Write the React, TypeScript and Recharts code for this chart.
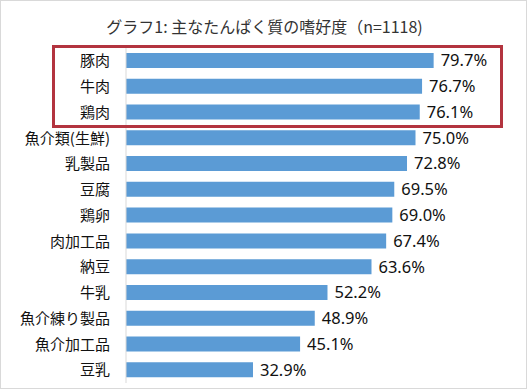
import React from 'react';
import { BarChart, Bar, XAxis, YAxis, LabelList } from 'recharts';

const categories = ['豚肉', '牛肉', '鶏肉', '魚介類(生鮮)', '乳製品', '豆腐', '鶏卵', '肉加工品', '納豆', '牛乳', '魚介練り製品', '魚介加工品', '豆乳'];
const values = [79.7, 76.7, 76.1, 75.0, 72.8, 69.5, 69.0, 67.4, 63.6, 52.2, 48.9, 45.1, 32.9];
const title = 'グラフ1: 主なたんぱく質の嗜好度（n=1118)';

const data = categories.map((name, i) => ({ name, value: values[i] }));

const jp = '"Noto Sans CJK JP", "Noto Sans", sans-serif';

export default function App() {
  return (
    <div style={{ position: 'absolute', left: 0, top: 0, width: 527, height: 389, boxSizing: 'border-box', border: '1px solid #D9D9D9', background: '#fff' }}>
      <div style={{ position: 'absolute', left: 0, top: 12, width: 527, textAlign: 'center', fontFamily: jp, fontSize: 16, color: '#333', lineHeight: '26px' }}>{title}</div>
      <div style={{ position: 'absolute', left: 0, top: 0 }}>
        <BarChart width={525} height={387} data={data} layout="vertical" margin={{ top: 47, right: 14, bottom: 5, left: 0 }} barSize={15}>
          <XAxis type="number" domain={[0, 100]} hide />
          <YAxis type="category" dataKey="name" width={125} tickSize={0} tickMargin={16} axisLine={{ stroke: '#D9D9D9' }} tickLine={false} interval={0} tick={{ fontFamily: jp, fontSize: 15, fill: '#111' }} />
          <Bar dataKey="value" fill="#5B9BD5" isAnimationActive={false}>
            <LabelList dataKey="value" position="right" offset={7} formatter={(v: number) => `${v.toFixed(1)}%`} style={{ fontFamily: '"Noto Sans", sans-serif', fontSize: 16.5, fill: '#111' }} />
          </Bar>
        </BarChart>
      </div>
      <div style={{ position: 'absolute', left: 51, top: 44, width: 451, height: 83, boxSizing: 'border-box', border: '3px solid #B3343F' }} />
    </div>
  );
}
